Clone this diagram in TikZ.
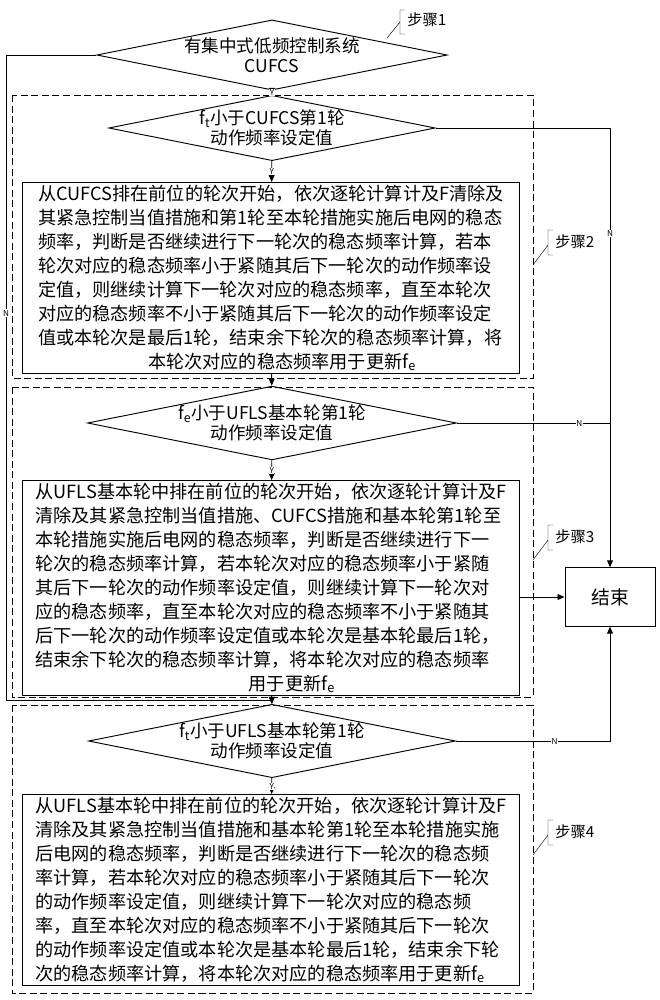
\documentclass[tikz,border=0pt]{standalone}
\usepackage{fontspec}
\setmainfont{Noto Sans CJK SC}
\usetikzlibrary{shapes.geometric,arrows.meta}
\tikzset{
  decide/.style={diamond,draw,aspect=5,minimum width=8cm,minimum height=1.6cm,inner sep=0pt,align=center,font=\fontsize{15}{17}\selectfont},
  stepbox/.style={draw,minimum width=14.9cm,inner sep=2pt,font=\fontsize{15.5}{20.5}\selectfont},
  endbox/.style={draw,minimum width=2.7cm,minimum height=1.75cm,font=\fontsize{16}{18}\selectfont},
  group/.style={draw,thick,dash pattern=on 6pt off 3pt},
  yn/.style={font=\scriptsize,fill=white,inner sep=0.5pt},
  steplbl/.style={font=\fontsize{13}{15}\selectfont,anchor=west}
}
\begin{document}
\begin{tikzpicture}[x=0.03cm,y=-0.03cm,>={Triangle[length=6pt,width=5pt]},thick]
  \useasboundingbox (0,0) rectangle (659,1000);
  % dashed groups
  \draw[group] (12,95) rectangle (533,378);
  \draw[group] (12,387) rectangle (533,697);
  \draw[group] (12,705) rectangle (533,993);
  % decisions
  \node[decide,minimum height=2cm] (d1) at (272,55) {有集中式低频控制系统\\CUFCS};
  \node[decide] (d2) at (272,128) {f\textsubscript{t}小于CUFCS第1轮\\动作频率设定值};
  \node[decide] (d3) at (272,423) {f\textsubscript{e}小于UFLS基本轮第1轮\\动作频率设定值};
  \node[decide] (d4) at (272,741) {f\textsubscript{t}小于UFLS基本轮第1轮\\动作频率设定值};
  % steps
  \node[stepbox,align=left] (b1) at (271,278) {从CUFCS排在前位的轮次开始，依次逐轮计算计及F清除及\\其紧急控制当值措施和第1轮至本轮措施实施后电网的稳态\\频率，判断是否继续进行下一轮次的稳态频率计算，若本\\轮次对应的稳态频率小于紧随其后下一轮次的动作频率设\\定值，则继续计算下一轮次对应的稳态频率，直至本轮次\\对应的稳态频率不小于紧随其后下一轮次的动作频率设定\\值或本轮次是最后1轮，结束余下轮次的稳态频率计算，将\\\hspace*{3.3cm}本轮次对应的稳态频率用于更新f\textsubscript{e}};
  \node[stepbox,align=left] (b2) at (271,588) {从UFLS基本轮中排在前位的轮次开始，依次逐轮计算计及F\\清除及其紧急控制当值措施、CUFCS措施和基本轮第1轮至\\本轮措施实施后电网的稳态频率，判断是否继续进行下一\\轮次的稳态频率计算，若本轮次对应的稳态频率小于紧随\\其后下一轮次的动作频率设定值，则继续计算下一轮次对\\应的稳态频率，直至本轮次对应的稳态频率不小于紧随其\\后下一轮次的动作频率设定值或本轮次是基本轮最后1轮，\\结束余下轮次的稳态频率计算，将本轮次对应的稳态频率\\\hspace*{6.4cm}用于更新f\textsubscript{e}};
  \node[stepbox,align=left] (b3) at (271,890) {从UFLS基本轮中排在前位的轮次开始，依次逐轮计算计及F\\清除及其紧急控制当值措施和基本轮第1轮至本轮措施实施\\后电网的稳态频率，判断是否继续进行下一轮次的稳态频\\率计算，若本轮次对应的稳态频率小于紧随其后下一轮次\\的动作频率设定值，则继续计算下一轮次对应的稳态频\\率，直至本轮次对应的稳态频率不小于紧随其后下一轮次\\的动作频率设定值或本轮次是基本轮最后1轮，结束余下轮\\次的稳态频率计算，将本轮次对应的稳态频率用于更新f\textsubscript{e}};
  \node[endbox] (end) at (610,597) {结束};
  % flow
  \draw[->] (d1) -- node[yn] {Y} (d2);
  \draw[->] (d2) -- node[yn] {Y} (b1);
  \draw[->] (b1) -- (d3);
  \draw[->] (d3) -- node[yn] {Y} (b2);
  \draw[->] (b2) -- (d4);
  \draw[->] (d4) -- node[yn] {Y} (b3);
  \draw[->] (d1.west) -| (6,700) node[yn,pos=0.7] {N} -- (272,700) -- (d4);
  \draw[->] (d2.east) -| node[yn,pos=0.62] {N} (end.north);
  \draw (d3.east) -- node[yn,pos=0.8] {N} (end.north |- d3.east);
  \draw[->] (d4.east) -| node[yn,pos=0.32] {N} (end.south);
  \draw[->] (b2.east |- end) -- (end);
  % step labels
  \draw[thin] (387,38) -- (400,22) (405,10) -- (400,10) -- (400,34) -- (405,34);
  \node[steplbl] (s1) at (403,20) {步骤1};
  \draw[thin] (533,265) -- (548,245) (553,230) -- (548,230) -- (548,255) -- (553,255);
  \node[steplbl] (s2) at (551,242) {步骤2};
  \draw[thin] (533,560) -- (548,540) (553,525) -- (548,525) -- (548,550) -- (553,550);
  \node[steplbl] (s3) at (551,537) {步骤3};
  \draw[thin] (533,855) -- (548,835) (553,820) -- (548,820) -- (548,845) -- (553,845);
  \node[steplbl] (s4) at (551,832) {步骤4};
\end{tikzpicture}
\end{document}
